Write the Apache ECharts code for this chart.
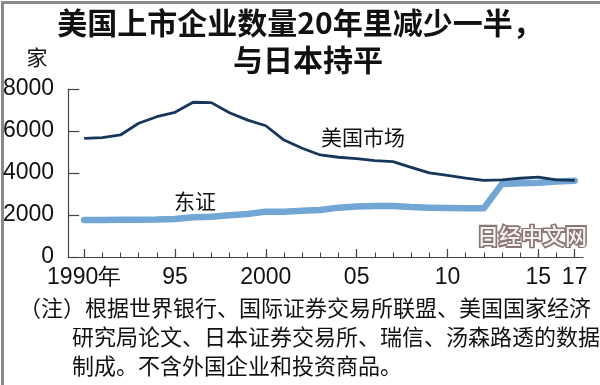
<!DOCTYPE html>
<html>
<head>
<meta charset="utf-8">
<script src="https://cdn.jsdelivr.net/npm/echarts@6/dist/echarts.min.js"></script>
<style>html,body{margin:0;padding:0;background:#fff}#c{width:600px;height:385px}</style>
</head>
<body>
<div id="c"></div>
<script>
var years = [1990,1991,1992,1993,1994,1995,1996,1997,1998,1999,2000,2001,2002,2003,2004,2005,2006,2007,2008,2009,2010,2011,2012,2013,2014,2015,2016,2017];
var usCounts = [5650,5680,5810,6370,6680,6890,7370,7350,6870,6520,6250,5570,5180,4860,4750,4680,4590,4540,4270,4010,3890,3760,3650,3670,3750,3800,3670,3650];
var tseCounts = [1760,1760,1770,1770,1780,1810,1890,1920,1990,2050,2160,2160,2200,2240,2350,2400,2430,2430,2380,2350,2330,2320,2320,3480,3510,3540,3590,3630];
var majorTicks = [1990,1995,2000,2005,2010,2015,2017];
var majorLabels = ['1990年','95','2000','05','10','15','17'];
var titleLines = ['美国上市企业数量20年里减少一半，', '与日本持平'];
var unitText = '家';
var usName = '美国市场';
var tseName = '东证';
var noteLines = ['（注）根据世界银行、国际证券交易所联盟、美国国家经济', '研究局论文、日本证券交易所、瑞信、汤森路透的数据', '制成。不含外国企业和投资商品。'];
var watermark = '日经中文网';

var numFont = '"Liberation Sans Narrow","Liberation Sans",Arial,sans-serif';
var cjkFont = '"Noto Sans CJK SC","Noto Sans",sans-serif';

function pairs(vals){ return years.map(function(y,i){ return [y, vals[i]]; }); }

var chart = echarts.init(document.getElementById('c'), null, {renderer:'canvas'});
var xMin = 1989.12, xMax = 2017.46;
chart.setOption({
  animation:false,
  backgroundColor:'#fff',
  grid:{left:68, right:17, top:89, bottom:128, containLabel:false},
  xAxis:[{
    type:'value', min:xMin, max:xMax,
    axisLine:{show:true, lineStyle:{color:'#444', width:1.2}},
    axisTick:{show:true, inside:true, length:8, customValues:majorTicks, lineStyle:{color:'#444', width:1.2}},
    axisLabel:{show:true, customValues:majorTicks, margin:9, color:'#111', fontSize:23, fontFamily:numFont,
      alignMinLabel:'center', alignMaxLabel:'center',
      formatter:function(v){ var i = majorTicks.indexOf(Math.round(v)); return i>=0 ? majorLabels[i] : ''; }},
    splitLine:{show:false}
  },{
    type:'value', min:xMin, max:xMax, position:'bottom',
    axisLine:{show:false},
    axisTick:{show:true, inside:true, length:4.5, customValues:years, lineStyle:{color:'#444', width:1.1}},
    axisLabel:{show:false},
    splitLine:{show:false}
  }],
  yAxis:{
    type:'value', min:0, max:8000, interval:2000,
    axisLine:{show:true, lineStyle:{color:'#444', width:1.2}},
    axisTick:{show:true, inside:true, length:11, lineStyle:{color:'#444', width:1.2}},
    axisLabel:{show:true, margin:14, color:'#111', fontSize:23, fontFamily:numFont,
      formatter:function(v){ return String(v); }},
    splitLine:{show:false}
  },
  series:[{
    type:'line', name:tseName, xAxisIndex:0, data:pairs(tseCounts), symbol:'none',
    lineStyle:{color:'#72a6d4', width:6.5, cap:'round', join:'round'}, z:2
  },{
    type:'line', name:usName, xAxisIndex:0, data:pairs(usCounts), symbol:'none',
    lineStyle:{color:'#16365b', width:2.8, join:'round'}, z:3
  }],
  graphic:[
    {type:'rect', left:0, top:0, shape:{width:600, height:385}, style:{fill:'none', stroke:'#8a8a8a', lineWidth:3}, silent:true},
    {type:'text', x:300, y:23, style:{text:titleLines[0], font:'bold 30px '+cjkFont, fill:'#111', align:'center', verticalAlign:'middle'}},
    {type:'text', x:308, y:60, style:{text:titleLines[1], font:'bold 30px '+cjkFont, fill:'#111', align:'center', verticalAlign:'middle'}},
    {type:'text', x:37, y:57, style:{text:unitText, font:'21px '+cjkFont, fill:'#111', align:'center', verticalAlign:'middle'}},
    {type:'text', x:363, y:137, style:{text:usName, font:'21px '+cjkFont, fill:'#111', align:'center', verticalAlign:'middle'}},
    {type:'text', x:195, y:201, style:{text:tseName, font:'21px '+cjkFont, fill:'#111', align:'center', verticalAlign:'middle'}},
    {type:'text', x:532, y:236, style:{text:watermark, font:'bold 22px '+cjkFont, fill:'#8b7676', stroke:'#8b7676', lineWidth:3, align:'center', verticalAlign:'middle'}},
    {type:'text', x:532, y:236, style:{text:watermark, font:'500 22px '+cjkFont, fill:'#f4f0f0', align:'center', verticalAlign:'middle'}},
    {type:'text', x:19, y:308, style:{text:noteLines[0], font:'22px '+cjkFont, fill:'#111', align:'left', verticalAlign:'middle'}},
    {type:'text', x:72, y:337, style:{text:noteLines[1], font:'22px '+cjkFont, fill:'#111', align:'left', verticalAlign:'middle'}},
    {type:'text', x:72, y:366, style:{text:noteLines[2], font:'22px '+cjkFont, fill:'#111', align:'left', verticalAlign:'middle'}}
  ]
});
</script>
</body>
</html>
